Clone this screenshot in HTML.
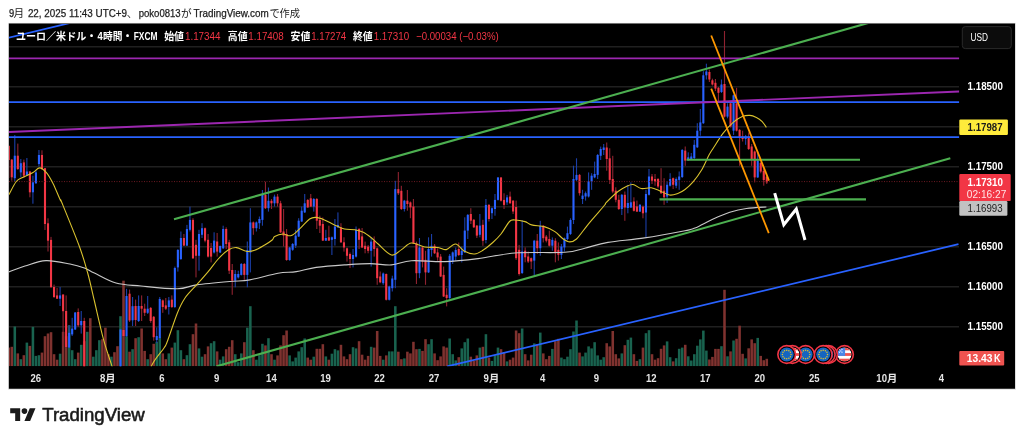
<!DOCTYPE html>
<html><head><meta charset="utf-8"><title>EURUSD chart</title>
<style>html,body{margin:0;padding:0;background:#fff;}body{width:1024px;height:441px;overflow:hidden;}svg{display:block;will-change:transform;font-family:"Liberation Sans","Noto Sans CJK JP",sans-serif;}</style>
</head><body>
<svg width="1024" height="441" viewBox="0 0 1024 441">
<defs><clipPath id="pane"><rect x="9" y="24" width="950.3" height="342.3"/></clipPath><clipPath id="fl"><circle cx="0" cy="0" r="7"/></clipPath></defs>
<rect x="0" y="0" width="1024" height="441" fill="#ffffff"/>
<rect x="8.2" y="22.9" width="1007.8" height="366.8" fill="#dedede"/>
<rect x="8.85" y="23.5" width="1006.15" height="365.25" fill="#000000"/>
<text x="9.1" y="17" font-size="10.7" fill="#1c1c1c" font-weight="normal" text-anchor="start" textLength="5.2" lengthAdjust="spacingAndGlyphs" stroke="#1c1c1c" stroke-width="0.25">9</text>
<text x="13.4" y="17" font-size="10.7" fill="#1c1c1c" font-weight="normal" text-anchor="start" font-family="&quot;Liberation Sans&quot;,&quot;Noto Sans CJK JP&quot;,sans-serif">月</text>
<text x="27.9" y="17" font-size="10.7" fill="#1c1c1c" font-weight="normal" text-anchor="start" textLength="99.1" lengthAdjust="spacingAndGlyphs" stroke="#1c1c1c" stroke-width="0.25">22, 2025 11:43 UTC+9</text>
<text x="126.8" y="17" font-size="10.7" fill="#1c1c1c" font-weight="normal" text-anchor="start" font-family="&quot;Liberation Sans&quot;,&quot;Noto Sans CJK JP&quot;,sans-serif">、</text>
<text x="138.7" y="17" font-size="10.7" fill="#1c1c1c" font-weight="normal" text-anchor="start" textLength="42" lengthAdjust="spacingAndGlyphs" stroke="#1c1c1c" stroke-width="0.25">poko0813</text>
<text x="181" y="17" font-size="10.7" fill="#1c1c1c" font-weight="normal" text-anchor="start" font-family="&quot;Liberation Sans&quot;,&quot;Noto Sans CJK JP&quot;,sans-serif">が</text>
<text x="193.5" y="17" font-size="10.7" fill="#1c1c1c" font-weight="normal" text-anchor="start" textLength="75.3" lengthAdjust="spacingAndGlyphs" stroke="#1c1c1c" stroke-width="0.25">TradingView.com</text>
<text x="269.4" y="17" font-size="10.7" fill="#1c1c1c" font-weight="normal" text-anchor="start" textLength="30.6" lengthAdjust="spacingAndGlyphs" font-family="&quot;Liberation Sans&quot;,&quot;Noto Sans CJK JP&quot;,sans-serif">で作成</text>
<line x1="9" y1="46.8" x2="959" y2="46.8" stroke="#202020" stroke-width="1.4"/>
<line x1="9" y1="86.8" x2="959" y2="86.8" stroke="#202020" stroke-width="1.4"/>
<line x1="9" y1="126.8" x2="959" y2="126.8" stroke="#202020" stroke-width="1.4"/>
<line x1="9" y1="166.8" x2="959" y2="166.8" stroke="#202020" stroke-width="1.4"/>
<line x1="9" y1="206.8" x2="959" y2="206.8" stroke="#202020" stroke-width="1.4"/>
<line x1="9" y1="246.8" x2="959" y2="246.8" stroke="#202020" stroke-width="1.4"/>
<line x1="9" y1="286.8" x2="959" y2="286.8" stroke="#202020" stroke-width="1.4"/>
<line x1="9" y1="326.8" x2="959" y2="326.8" stroke="#202020" stroke-width="1.4"/>
<g clip-path="url(#pane)">
<rect x="7.48" y="347.6" width="2.55" height="18.6" fill="#7f322f"/><rect x="10.50" y="346.8" width="2.55" height="19.4" fill="#7f322f"/><rect x="13.52" y="326.5" width="2.55" height="39.7" fill="#19634f"/><rect x="16.54" y="353.4" width="2.55" height="12.8" fill="#7f322f"/><rect x="19.56" y="359.2" width="2.55" height="7.0" fill="#19634f"/><rect x="22.58" y="355.2" width="2.55" height="11.0" fill="#7f322f"/><rect x="25.60" y="342.6" width="2.55" height="23.6" fill="#19634f"/><rect x="28.62" y="345.9" width="2.55" height="20.3" fill="#7f322f"/><rect x="31.64" y="326.8" width="2.55" height="39.4" fill="#19634f"/><rect x="34.66" y="355.9" width="2.55" height="10.3" fill="#19634f"/><rect x="37.68" y="355.2" width="2.55" height="11.0" fill="#19634f"/><rect x="40.70" y="352.6" width="2.55" height="13.6" fill="#7f322f"/><rect x="43.72" y="336.2" width="2.55" height="30.0" fill="#7f322f"/><rect x="46.74" y="333.5" width="2.55" height="32.7" fill="#7f322f"/><rect x="49.76" y="332.2" width="2.55" height="34.0" fill="#7f322f"/><rect x="52.78" y="354.2" width="2.55" height="12.0" fill="#7f322f"/><rect x="55.80" y="359.7" width="2.55" height="6.5" fill="#7f322f"/><rect x="58.82" y="353.7" width="2.55" height="12.5" fill="#19634f"/><rect x="61.84" y="331.8" width="2.55" height="34.4" fill="#7f322f"/><rect x="64.86" y="336.2" width="2.55" height="30.0" fill="#7f322f"/><rect x="67.88" y="325.2" width="2.55" height="41.0" fill="#19634f"/><rect x="70.90" y="350.2" width="2.55" height="16.0" fill="#19634f"/><rect x="73.92" y="359.2" width="2.55" height="7.0" fill="#19634f"/><rect x="76.94" y="352.6" width="2.55" height="13.6" fill="#7f322f"/><rect x="79.96" y="344.8" width="2.55" height="21.4" fill="#19634f"/><rect x="82.98" y="341.2" width="2.55" height="25.0" fill="#7f322f"/><rect x="86.00" y="331.8" width="2.55" height="34.4" fill="#19634f"/><rect x="89.02" y="318.2" width="2.55" height="48.0" fill="#7f322f"/><rect x="92.04" y="356.7" width="2.55" height="9.5" fill="#19634f"/><rect x="95.06" y="350.2" width="2.55" height="16.0" fill="#19634f"/><rect x="98.08" y="340.2" width="2.55" height="26.0" fill="#19634f"/><rect x="101.10" y="339.2" width="2.55" height="27.0" fill="#7f322f"/><rect x="104.12" y="327.7" width="2.55" height="38.5" fill="#7f322f"/><rect x="107.14" y="354.2" width="2.55" height="12.0" fill="#7f322f"/><rect x="110.16" y="356.7" width="2.55" height="9.5" fill="#19634f"/><rect x="113.18" y="352.2" width="2.55" height="14.0" fill="#7f322f"/><rect x="116.20" y="346.2" width="2.55" height="20.0" fill="#7f322f"/><rect x="119.22" y="316.2" width="2.55" height="50.0" fill="#19634f"/><rect x="122.24" y="280.7" width="2.55" height="85.5" fill="#7f322f"/><rect x="125.26" y="336.2" width="2.55" height="30.0" fill="#19634f"/><rect x="128.28" y="351.7" width="2.55" height="14.5" fill="#7f322f"/><rect x="131.30" y="349.2" width="2.55" height="17.0" fill="#19634f"/><rect x="134.32" y="338.2" width="2.55" height="28.0" fill="#7f322f"/><rect x="137.34" y="337.2" width="2.55" height="29.0" fill="#19634f"/><rect x="140.36" y="328.5" width="2.55" height="37.7" fill="#7f322f"/><rect x="143.38" y="350.9" width="2.55" height="15.3" fill="#7f322f"/><rect x="146.40" y="359.2" width="2.55" height="7.0" fill="#19634f"/><rect x="149.42" y="354.2" width="2.55" height="12.0" fill="#7f322f"/><rect x="152.44" y="343.8" width="2.55" height="22.4" fill="#7f322f"/><rect x="155.46" y="341.8" width="2.55" height="24.4" fill="#19634f"/><rect x="158.48" y="337.6" width="2.55" height="28.6" fill="#19634f"/><rect x="161.50" y="353.4" width="2.55" height="12.8" fill="#7f322f"/><rect x="164.52" y="359.2" width="2.55" height="7.0" fill="#7f322f"/><rect x="167.54" y="353.4" width="2.55" height="12.8" fill="#19634f"/><rect x="170.56" y="347.6" width="2.55" height="18.6" fill="#7f322f"/><rect x="173.58" y="342.6" width="2.55" height="23.6" fill="#19634f"/><rect x="176.60" y="330.2" width="2.55" height="36.0" fill="#19634f"/><rect x="179.62" y="350.2" width="2.55" height="16.0" fill="#19634f"/><rect x="182.64" y="359.2" width="2.55" height="7.0" fill="#7f322f"/><rect x="185.66" y="355.2" width="2.55" height="11.0" fill="#19634f"/><rect x="188.68" y="344.2" width="2.55" height="22.0" fill="#19634f"/><rect x="191.70" y="334.2" width="2.55" height="32.0" fill="#7f322f"/><rect x="194.72" y="323.5" width="2.55" height="42.7" fill="#7f322f"/><rect x="197.74" y="348.4" width="2.55" height="17.8" fill="#19634f"/><rect x="200.76" y="356.7" width="2.55" height="9.5" fill="#19634f"/><rect x="203.78" y="354.2" width="2.55" height="12.0" fill="#7f322f"/><rect x="206.80" y="346.4" width="2.55" height="19.8" fill="#7f322f"/><rect x="209.82" y="343.2" width="2.55" height="23.0" fill="#19634f"/><rect x="212.84" y="341.2" width="2.55" height="25.0" fill="#19634f"/><rect x="215.86" y="351.4" width="2.55" height="14.8" fill="#7f322f"/><rect x="218.88" y="359.7" width="2.55" height="6.5" fill="#19634f"/><rect x="221.90" y="356.4" width="2.55" height="9.8" fill="#19634f"/><rect x="224.92" y="349.2" width="2.55" height="17.0" fill="#7f322f"/><rect x="227.94" y="346.8" width="2.55" height="19.4" fill="#7f322f"/><rect x="230.96" y="340.2" width="2.55" height="26.0" fill="#7f322f"/><rect x="233.98" y="354.2" width="2.55" height="12.0" fill="#19634f"/><rect x="237.00" y="362.2" width="2.55" height="4.0" fill="#19634f"/><rect x="240.02" y="353.4" width="2.55" height="12.8" fill="#19634f"/><rect x="243.04" y="342.2" width="2.55" height="24.0" fill="#7f322f"/><rect x="246.06" y="327.7" width="2.55" height="38.5" fill="#19634f"/><rect x="249.08" y="306.2" width="2.55" height="60.0" fill="#19634f"/><rect x="252.10" y="350.2" width="2.55" height="16.0" fill="#7f322f"/><rect x="255.12" y="359.7" width="2.55" height="6.5" fill="#19634f"/><rect x="258.14" y="355.2" width="2.55" height="11.0" fill="#19634f"/><rect x="261.16" y="343.8" width="2.55" height="22.4" fill="#19634f"/><rect x="264.18" y="345.4" width="2.55" height="20.8" fill="#7f322f"/><rect x="267.20" y="338.2" width="2.55" height="28.0" fill="#19634f"/><rect x="270.22" y="354.2" width="2.55" height="12.0" fill="#7f322f"/><rect x="273.24" y="359.7" width="2.55" height="6.5" fill="#19634f"/><rect x="276.26" y="355.4" width="2.55" height="10.8" fill="#7f322f"/><rect x="279.28" y="345.4" width="2.55" height="20.8" fill="#7f322f"/><rect x="282.30" y="335.2" width="2.55" height="31.0" fill="#7f322f"/><rect x="285.32" y="330.5" width="2.55" height="35.7" fill="#7f322f"/><rect x="288.34" y="355.4" width="2.55" height="10.8" fill="#19634f"/><rect x="291.36" y="361.4" width="2.55" height="4.8" fill="#19634f"/><rect x="294.38" y="357.6" width="2.55" height="8.6" fill="#19634f"/><rect x="297.40" y="351.4" width="2.55" height="14.8" fill="#19634f"/><rect x="300.42" y="347.2" width="2.55" height="19.0" fill="#19634f"/><rect x="303.44" y="338.5" width="2.55" height="27.7" fill="#19634f"/><rect x="306.46" y="357.6" width="2.55" height="8.6" fill="#7f322f"/><rect x="309.48" y="359.7" width="2.55" height="6.5" fill="#7f322f"/><rect x="312.50" y="356.7" width="2.55" height="9.5" fill="#19634f"/><rect x="315.52" y="348.8" width="2.55" height="17.4" fill="#7f322f"/><rect x="318.54" y="348.8" width="2.55" height="17.4" fill="#7f322f"/><rect x="321.56" y="344.2" width="2.55" height="22.0" fill="#7f322f"/><rect x="324.58" y="356.4" width="2.55" height="9.8" fill="#19634f"/><rect x="327.60" y="359.7" width="2.55" height="6.5" fill="#7f322f"/><rect x="330.62" y="353.7" width="2.55" height="12.5" fill="#19634f"/><rect x="333.64" y="349.2" width="2.55" height="17.0" fill="#19634f"/><rect x="336.66" y="350.4" width="2.55" height="15.8" fill="#19634f"/><rect x="339.68" y="344.8" width="2.55" height="21.4" fill="#7f322f"/><rect x="342.70" y="356.4" width="2.55" height="9.8" fill="#7f322f"/><rect x="345.72" y="359.2" width="2.55" height="7.0" fill="#7f322f"/><rect x="348.74" y="354.2" width="2.55" height="12.0" fill="#7f322f"/><rect x="351.76" y="347.2" width="2.55" height="19.0" fill="#19634f"/><rect x="354.78" y="348.4" width="2.55" height="17.8" fill="#19634f"/><rect x="357.80" y="341.2" width="2.55" height="25.0" fill="#7f322f"/><rect x="360.82" y="354.7" width="2.55" height="11.5" fill="#7f322f"/><rect x="363.84" y="359.7" width="2.55" height="6.5" fill="#7f322f"/><rect x="366.86" y="355.9" width="2.55" height="10.3" fill="#7f322f"/><rect x="369.88" y="346.8" width="2.55" height="19.4" fill="#19634f"/><rect x="372.90" y="347.6" width="2.55" height="18.6" fill="#7f322f"/><rect x="375.92" y="331.0" width="2.55" height="35.2" fill="#7f322f"/><rect x="378.94" y="355.9" width="2.55" height="10.3" fill="#7f322f"/><rect x="381.96" y="359.7" width="2.55" height="6.5" fill="#19634f"/><rect x="384.98" y="355.4" width="2.55" height="10.8" fill="#7f322f"/><rect x="388.00" y="351.4" width="2.55" height="14.8" fill="#19634f"/><rect x="391.02" y="351.4" width="2.55" height="14.8" fill="#19634f"/><rect x="394.04" y="306.2" width="2.55" height="60.0" fill="#19634f"/><rect x="397.06" y="351.7" width="2.55" height="14.5" fill="#7f322f"/><rect x="400.08" y="359.2" width="2.55" height="7.0" fill="#7f322f"/><rect x="403.10" y="358.4" width="2.55" height="7.8" fill="#19634f"/><rect x="406.12" y="351.7" width="2.55" height="14.5" fill="#7f322f"/><rect x="409.14" y="353.4" width="2.55" height="12.8" fill="#7f322f"/><rect x="412.16" y="341.8" width="2.55" height="24.4" fill="#7f322f"/><rect x="415.18" y="349.2" width="2.55" height="17.0" fill="#7f322f"/><rect x="418.20" y="348.9" width="2.55" height="17.3" fill="#19634f"/><rect x="421.22" y="350.9" width="2.55" height="15.3" fill="#7f322f"/><rect x="424.24" y="339.2" width="2.55" height="27.0" fill="#7f322f"/><rect x="427.26" y="344.2" width="2.55" height="22.0" fill="#19634f"/><rect x="430.28" y="339.2" width="2.55" height="27.0" fill="#19634f"/><rect x="433.30" y="353.4" width="2.55" height="12.8" fill="#7f322f"/><rect x="436.32" y="360.2" width="2.55" height="6.0" fill="#7f322f"/><rect x="439.34" y="356.4" width="2.55" height="9.8" fill="#7f322f"/><rect x="442.36" y="346.4" width="2.55" height="19.8" fill="#7f322f"/><rect x="445.38" y="347.6" width="2.55" height="18.6" fill="#7f322f"/><rect x="448.40" y="338.5" width="2.55" height="27.7" fill="#19634f"/><rect x="451.42" y="354.2" width="2.55" height="12.0" fill="#19634f"/><rect x="454.44" y="360.4" width="2.55" height="5.8" fill="#19634f"/><rect x="457.46" y="357.2" width="2.55" height="9.0" fill="#7f322f"/><rect x="460.48" y="348.4" width="2.55" height="17.8" fill="#19634f"/><rect x="463.50" y="342.2" width="2.55" height="24.0" fill="#19634f"/><rect x="466.52" y="338.5" width="2.55" height="27.7" fill="#19634f"/><rect x="469.54" y="356.7" width="2.55" height="9.5" fill="#7f322f"/><rect x="472.56" y="360.9" width="2.55" height="5.3" fill="#7f322f"/><rect x="475.58" y="355.4" width="2.55" height="10.8" fill="#7f322f"/><rect x="478.60" y="347.6" width="2.55" height="18.6" fill="#19634f"/><rect x="481.62" y="346.8" width="2.55" height="19.4" fill="#7f322f"/><rect x="484.64" y="334.2" width="2.55" height="32.0" fill="#19634f"/><rect x="487.66" y="357.6" width="2.55" height="8.6" fill="#7f322f"/><rect x="490.68" y="360.9" width="2.55" height="5.3" fill="#19634f"/><rect x="493.70" y="355.2" width="2.55" height="11.0" fill="#19634f"/><rect x="496.72" y="347.6" width="2.55" height="18.6" fill="#19634f"/><rect x="499.74" y="349.2" width="2.55" height="17.0" fill="#7f322f"/><rect x="502.76" y="352.2" width="2.55" height="14.0" fill="#7f322f"/><rect x="505.78" y="361.4" width="2.55" height="4.8" fill="#19634f"/><rect x="508.80" y="359.7" width="2.55" height="6.5" fill="#7f322f"/><rect x="511.82" y="357.6" width="2.55" height="8.6" fill="#7f322f"/><rect x="514.84" y="330.5" width="2.55" height="35.7" fill="#7f322f"/><rect x="517.86" y="333.2" width="2.55" height="33.0" fill="#7f322f"/><rect x="520.88" y="328.5" width="2.55" height="37.7" fill="#19634f"/><rect x="523.90" y="354.2" width="2.55" height="12.0" fill="#7f322f"/><rect x="526.92" y="360.4" width="2.55" height="5.8" fill="#7f322f"/><rect x="529.94" y="354.7" width="2.55" height="11.5" fill="#7f322f"/><rect x="532.96" y="343.4" width="2.55" height="22.8" fill="#19634f"/><rect x="535.98" y="344.2" width="2.55" height="22.0" fill="#7f322f"/><rect x="539.00" y="332.6" width="2.55" height="33.6" fill="#19634f"/><rect x="542.02" y="353.4" width="2.55" height="12.8" fill="#7f322f"/><rect x="545.04" y="359.2" width="2.55" height="7.0" fill="#7f322f"/><rect x="548.06" y="355.9" width="2.55" height="10.3" fill="#7f322f"/><rect x="551.08" y="348.9" width="2.55" height="17.3" fill="#19634f"/><rect x="554.10" y="341.2" width="2.55" height="25.0" fill="#7f322f"/><rect x="557.12" y="338.8" width="2.55" height="27.4" fill="#7f322f"/><rect x="560.14" y="357.6" width="2.55" height="8.6" fill="#19634f"/><rect x="563.16" y="359.2" width="2.55" height="7.0" fill="#19634f"/><rect x="566.18" y="356.7" width="2.55" height="9.5" fill="#19634f"/><rect x="569.20" y="349.2" width="2.55" height="17.0" fill="#19634f"/><rect x="572.22" y="331.5" width="2.55" height="34.7" fill="#19634f"/><rect x="575.24" y="320.5" width="2.55" height="45.7" fill="#19634f"/><rect x="578.26" y="352.6" width="2.55" height="13.6" fill="#7f322f"/><rect x="581.28" y="356.4" width="2.55" height="9.8" fill="#19634f"/><rect x="584.30" y="352.6" width="2.55" height="13.6" fill="#19634f"/><rect x="587.32" y="346.4" width="2.55" height="19.8" fill="#19634f"/><rect x="590.34" y="348.4" width="2.55" height="17.8" fill="#19634f"/><rect x="593.36" y="342.2" width="2.55" height="24.0" fill="#19634f"/><rect x="596.38" y="355.4" width="2.55" height="10.8" fill="#19634f"/><rect x="599.40" y="359.7" width="2.55" height="6.5" fill="#19634f"/><rect x="602.42" y="357.2" width="2.55" height="9.0" fill="#19634f"/><rect x="605.44" y="343.2" width="2.55" height="23.0" fill="#7f322f"/><rect x="608.46" y="346.4" width="2.55" height="19.8" fill="#7f322f"/><rect x="611.48" y="331.0" width="2.55" height="35.2" fill="#7f322f"/><rect x="614.50" y="354.2" width="2.55" height="12.0" fill="#7f322f"/><rect x="617.52" y="358.4" width="2.55" height="7.8" fill="#7f322f"/><rect x="620.54" y="353.4" width="2.55" height="12.8" fill="#19634f"/><rect x="623.56" y="345.2" width="2.55" height="21.0" fill="#7f322f"/><rect x="626.58" y="339.8" width="2.55" height="26.4" fill="#19634f"/><rect x="629.60" y="337.6" width="2.55" height="28.6" fill="#19634f"/><rect x="632.62" y="354.2" width="2.55" height="12.0" fill="#7f322f"/><rect x="635.64" y="360.9" width="2.55" height="5.3" fill="#7f322f"/><rect x="638.66" y="359.2" width="2.55" height="7.0" fill="#19634f"/><rect x="641.68" y="347.6" width="2.55" height="18.6" fill="#7f322f"/><rect x="644.70" y="333.2" width="2.55" height="33.0" fill="#19634f"/><rect x="647.72" y="330.2" width="2.55" height="36.0" fill="#19634f"/><rect x="650.74" y="354.2" width="2.55" height="12.0" fill="#7f322f"/><rect x="653.76" y="359.7" width="2.55" height="6.5" fill="#7f322f"/><rect x="656.78" y="358.2" width="2.55" height="8.0" fill="#7f322f"/><rect x="659.80" y="348.8" width="2.55" height="17.4" fill="#7f322f"/><rect x="662.82" y="345.4" width="2.55" height="20.8" fill="#7f322f"/><rect x="665.84" y="341.4" width="2.55" height="24.8" fill="#19634f"/><rect x="668.86" y="357.2" width="2.55" height="9.0" fill="#19634f"/><rect x="671.88" y="361.4" width="2.55" height="4.8" fill="#7f322f"/><rect x="674.90" y="358.2" width="2.55" height="8.0" fill="#19634f"/><rect x="677.92" y="348.8" width="2.55" height="17.4" fill="#19634f"/><rect x="680.94" y="347.6" width="2.55" height="18.6" fill="#19634f"/><rect x="683.96" y="344.8" width="2.55" height="21.4" fill="#7f322f"/><rect x="686.98" y="356.3" width="2.55" height="9.9" fill="#19634f"/><rect x="690.00" y="360.5" width="2.55" height="5.7" fill="#19634f"/><rect x="693.02" y="354.2" width="2.55" height="12.0" fill="#19634f"/><rect x="696.04" y="345.7" width="2.55" height="20.5" fill="#19634f"/><rect x="699.06" y="339.4" width="2.55" height="26.8" fill="#19634f"/><rect x="702.08" y="330.6" width="2.55" height="35.6" fill="#19634f"/><rect x="705.10" y="350.6" width="2.55" height="15.6" fill="#19634f"/><rect x="708.12" y="359.5" width="2.55" height="6.7" fill="#7f322f"/><rect x="711.14" y="356.9" width="2.55" height="9.3" fill="#7f322f"/><rect x="714.16" y="348.9" width="2.55" height="17.3" fill="#7f322f"/><rect x="717.18" y="348.9" width="2.55" height="17.3" fill="#7f322f"/><rect x="720.20" y="346.2" width="2.55" height="20.0" fill="#19634f"/><rect x="723.22" y="289.8" width="2.55" height="76.4" fill="#7f322f"/><rect x="726.24" y="356.3" width="2.55" height="9.9" fill="#19634f"/><rect x="729.26" y="351.4" width="2.55" height="14.8" fill="#7f322f"/><rect x="732.28" y="340.5" width="2.55" height="25.7" fill="#19634f"/><rect x="735.30" y="338.8" width="2.55" height="27.4" fill="#7f322f"/><rect x="738.32" y="325.7" width="2.55" height="40.5" fill="#7f322f"/><rect x="741.34" y="353.8" width="2.55" height="12.4" fill="#7f322f"/><rect x="744.36" y="358.4" width="2.55" height="7.8" fill="#19634f"/><rect x="747.38" y="348.3" width="2.55" height="17.9" fill="#7f322f"/><rect x="750.40" y="339.4" width="2.55" height="26.8" fill="#7f322f"/><rect x="753.42" y="343.2" width="2.55" height="23.0" fill="#7f322f"/><rect x="756.44" y="337.9" width="2.55" height="28.3" fill="#19634f"/><rect x="759.46" y="355.9" width="2.55" height="10.3" fill="#7f322f"/><rect x="762.48" y="360.2" width="2.55" height="6.0" fill="#7f322f"/><rect x="765.50" y="358.8" width="2.55" height="7.4" fill="#7f322f"/>
<rect x="8.20" y="145.0" width="1.1" height="33.0" fill="#8f2230"/><rect x="11.22" y="159.0" width="1.1" height="21.7" fill="#8f2230"/><rect x="14.24" y="135.0" width="1.1" height="46.5" fill="#1b3fa8"/><rect x="17.26" y="143.6" width="1.1" height="26.4" fill="#8f2230"/><rect x="20.28" y="159.0" width="1.1" height="18.3" fill="#1b3fa8"/><rect x="23.30" y="159.6" width="1.1" height="18.4" fill="#8f2230"/><rect x="26.32" y="158.0" width="1.1" height="18.0" fill="#1b3fa8"/><rect x="29.34" y="171.0" width="1.1" height="26.3" fill="#8f2230"/><rect x="32.36" y="175.7" width="1.1" height="28.0" fill="#1b3fa8"/><rect x="35.38" y="170.0" width="1.1" height="14.0" fill="#1b3fa8"/><rect x="38.40" y="150.0" width="1.1" height="16.5" fill="#1b3fa8"/><rect x="41.42" y="150.3" width="1.1" height="19.7" fill="#8f2230"/><rect x="44.44" y="168.0" width="1.1" height="62.0" fill="#8f2230"/><rect x="47.46" y="218.3" width="1.1" height="33.2" fill="#8f2230"/><rect x="50.48" y="236.9" width="1.1" height="51.1" fill="#8f2230"/><rect x="53.50" y="284.6" width="1.1" height="13.4" fill="#8f2230"/><rect x="56.52" y="288.0" width="1.1" height="11.0" fill="#8f2230"/><rect x="59.54" y="287.0" width="1.1" height="19.0" fill="#1b3fa8"/><rect x="62.56" y="294.0" width="1.1" height="52.0" fill="#8f2230"/><rect x="65.58" y="295.4" width="1.1" height="52.6" fill="#8f2230"/><rect x="68.60" y="325.3" width="1.1" height="22.7" fill="#1b3fa8"/><rect x="71.62" y="317.8" width="1.1" height="18.2" fill="#1b3fa8"/><rect x="74.64" y="312.0" width="1.1" height="18.0" fill="#1b3fa8"/><rect x="77.66" y="308.4" width="1.1" height="18.6" fill="#8f2230"/><rect x="80.68" y="311.0" width="1.1" height="22.6" fill="#1b3fa8"/><rect x="83.70" y="317.8" width="1.1" height="52.2" fill="#8f2230"/><rect x="119.94" y="329.0" width="1.1" height="41.0" fill="#1b3fa8"/><rect x="122.96" y="329.0" width="1.1" height="8.0" fill="#8f2230"/><rect x="125.98" y="288.8" width="1.1" height="48.2" fill="#1b3fa8"/><rect x="129.00" y="289.6" width="1.1" height="32.4" fill="#8f2230"/><rect x="132.02" y="297.0" width="1.1" height="29.0" fill="#1b3fa8"/><rect x="135.04" y="299.6" width="1.1" height="26.4" fill="#8f2230"/><rect x="138.06" y="295.4" width="1.1" height="26.6" fill="#1b3fa8"/><rect x="141.08" y="295.4" width="1.1" height="25.6" fill="#8f2230"/><rect x="144.10" y="303.7" width="1.1" height="12.3" fill="#8f2230"/><rect x="147.12" y="296.0" width="1.1" height="18.0" fill="#1b3fa8"/><rect x="150.14" y="307.0" width="1.1" height="15.8" fill="#8f2230"/><rect x="153.16" y="316.0" width="1.1" height="24.7" fill="#8f2230"/><rect x="156.18" y="327.4" width="1.1" height="15.6" fill="#1b3fa8"/><rect x="159.20" y="297.0" width="1.1" height="42.0" fill="#1b3fa8"/><rect x="162.22" y="299.5" width="1.1" height="13.3" fill="#8f2230"/><rect x="165.24" y="298.0" width="1.1" height="12.0" fill="#8f2230"/><rect x="168.26" y="297.0" width="1.1" height="17.5" fill="#1b3fa8"/><rect x="171.28" y="295.4" width="1.1" height="12.6" fill="#8f2230"/><rect x="174.30" y="266.6" width="1.1" height="41.4" fill="#1b3fa8"/><rect x="177.32" y="249.0" width="1.1" height="22.6" fill="#1b3fa8"/><rect x="180.34" y="231.5" width="1.1" height="28.5" fill="#1b3fa8"/><rect x="183.36" y="234.0" width="1.1" height="12.0" fill="#8f2230"/><rect x="186.38" y="224.9" width="1.1" height="21.1" fill="#1b3fa8"/><rect x="189.40" y="206.6" width="1.1" height="24.9" fill="#1b3fa8"/><rect x="192.42" y="218.2" width="1.1" height="40.8" fill="#8f2230"/><rect x="195.44" y="239.8" width="1.1" height="37.6" fill="#8f2230"/><rect x="198.46" y="229.8" width="1.1" height="40.9" fill="#1b3fa8"/><rect x="201.48" y="223.2" width="1.1" height="14.8" fill="#1b3fa8"/><rect x="204.50" y="227.5" width="1.1" height="14.8" fill="#8f2230"/><rect x="207.52" y="234.0" width="1.1" height="23.5" fill="#8f2230"/><rect x="210.54" y="243.0" width="1.1" height="19.4" fill="#8f2230"/><rect x="213.56" y="232.3" width="1.1" height="21.2" fill="#1b3fa8"/><rect x="216.58" y="233.0" width="1.1" height="23.6" fill="#8f2230"/><rect x="219.60" y="245.5" width="1.1" height="7.5" fill="#1b3fa8"/><rect x="222.62" y="225.7" width="1.1" height="23.3" fill="#1b3fa8"/><rect x="225.64" y="227.3" width="1.1" height="21.7" fill="#8f2230"/><rect x="228.66" y="239.8" width="1.1" height="34.2" fill="#8f2230"/><rect x="231.68" y="264.0" width="1.1" height="30.8" fill="#8f2230"/><rect x="234.70" y="270.0" width="1.1" height="17.3" fill="#1b3fa8"/><rect x="237.72" y="270.7" width="1.1" height="7.8" fill="#1b3fa8"/><rect x="240.74" y="263.0" width="1.1" height="12.5" fill="#1b3fa8"/><rect x="243.76" y="263.0" width="1.1" height="16.9" fill="#8f2230"/><rect x="246.78" y="241.5" width="1.1" height="45.8" fill="#1b3fa8"/><rect x="249.80" y="208.2" width="1.1" height="64.2" fill="#1b3fa8"/><rect x="252.82" y="221.5" width="1.1" height="13.3" fill="#8f2230"/><rect x="255.84" y="221.5" width="1.1" height="10.0" fill="#1b3fa8"/><rect x="258.86" y="216.5" width="1.1" height="12.5" fill="#1b3fa8"/><rect x="261.88" y="190.0" width="1.1" height="35.7" fill="#1b3fa8"/><rect x="264.90" y="181.7" width="1.1" height="27.3" fill="#8f2230"/><rect x="267.92" y="187.5" width="1.1" height="24.1" fill="#1b3fa8"/><rect x="270.94" y="199.0" width="1.1" height="10.0" fill="#8f2230"/><rect x="273.96" y="194.6" width="1.1" height="12.0" fill="#1b3fa8"/><rect x="276.98" y="194.0" width="1.1" height="12.6" fill="#8f2230"/><rect x="280.00" y="200.8" width="1.1" height="32.2" fill="#8f2230"/><rect x="283.02" y="209.0" width="1.1" height="37.5" fill="#8f2230"/><rect x="286.04" y="229.0" width="1.1" height="31.8" fill="#8f2230"/><rect x="289.06" y="247.0" width="1.1" height="13.8" fill="#1b3fa8"/><rect x="292.08" y="243.0" width="1.1" height="7.8" fill="#1b3fa8"/><rect x="295.10" y="229.8" width="1.1" height="18.2" fill="#1b3fa8"/><rect x="298.12" y="218.2" width="1.1" height="18.8" fill="#1b3fa8"/><rect x="301.14" y="206.6" width="1.1" height="15.4" fill="#1b3fa8"/><rect x="304.16" y="194.0" width="1.1" height="19.0" fill="#1b3fa8"/><rect x="307.18" y="199.0" width="1.1" height="9.0" fill="#8f2230"/><rect x="310.20" y="194.0" width="1.1" height="13.0" fill="#8f2230"/><rect x="313.22" y="198.0" width="1.1" height="13.6" fill="#1b3fa8"/><rect x="316.24" y="198.0" width="1.1" height="31.0" fill="#8f2230"/><rect x="319.26" y="215.7" width="1.1" height="17.3" fill="#8f2230"/><rect x="322.28" y="217.4" width="1.1" height="23.6" fill="#8f2230"/><rect x="325.30" y="229.8" width="1.1" height="11.2" fill="#1b3fa8"/><rect x="328.32" y="225.7" width="1.1" height="15.3" fill="#8f2230"/><rect x="331.34" y="236.5" width="1.1" height="18.5" fill="#1b3fa8"/><rect x="334.36" y="219.0" width="1.1" height="26.6" fill="#1b3fa8"/><rect x="337.38" y="212.4" width="1.1" height="15.6" fill="#1b3fa8"/><rect x="340.40" y="223.2" width="1.1" height="19.8" fill="#8f2230"/><rect x="343.42" y="237.3" width="1.1" height="14.3" fill="#8f2230"/><rect x="346.44" y="247.5" width="1.1" height="14.1" fill="#8f2230"/><rect x="349.46" y="252.5" width="1.1" height="15.5" fill="#8f2230"/><rect x="352.48" y="249.0" width="1.1" height="18.4" fill="#1b3fa8"/><rect x="355.50" y="226.5" width="1.1" height="31.0" fill="#1b3fa8"/><rect x="358.52" y="228.0" width="1.1" height="21.0" fill="#8f2230"/><rect x="361.54" y="228.0" width="1.1" height="20.0" fill="#8f2230"/><rect x="364.56" y="241.6" width="1.1" height="11.7" fill="#8f2230"/><rect x="367.58" y="245.0" width="1.1" height="8.3" fill="#8f2230"/><rect x="370.60" y="237.3" width="1.1" height="29.3" fill="#1b3fa8"/><rect x="373.62" y="236.4" width="1.1" height="20.2" fill="#8f2230"/><rect x="376.64" y="247.5" width="1.1" height="37.3" fill="#8f2230"/><rect x="379.66" y="271.5" width="1.1" height="11.7" fill="#8f2230"/><rect x="382.68" y="272.5" width="1.1" height="12.3" fill="#1b3fa8"/><rect x="385.70" y="273.5" width="1.1" height="27.0" fill="#8f2230"/><rect x="388.72" y="285.7" width="1.1" height="14.8" fill="#1b3fa8"/><rect x="391.74" y="275.7" width="1.1" height="15.8" fill="#1b3fa8"/><rect x="394.76" y="180.8" width="1.1" height="107.4" fill="#1b3fa8"/><rect x="397.78" y="172.0" width="1.1" height="23.0" fill="#8f2230"/><rect x="400.80" y="185.8" width="1.1" height="24.2" fill="#8f2230"/><rect x="403.82" y="199.9" width="1.1" height="11.6" fill="#1b3fa8"/><rect x="406.84" y="190.0" width="1.1" height="20.7" fill="#8f2230"/><rect x="409.86" y="201.5" width="1.1" height="16.7" fill="#8f2230"/><rect x="412.88" y="199.0" width="1.1" height="45.0" fill="#8f2230"/><rect x="415.90" y="241.6" width="1.1" height="42.4" fill="#8f2230"/><rect x="418.92" y="238.0" width="1.1" height="40.2" fill="#1b3fa8"/><rect x="421.94" y="246.5" width="1.1" height="20.9" fill="#8f2230"/><rect x="424.96" y="250.8" width="1.1" height="34.0" fill="#8f2230"/><rect x="427.98" y="237.3" width="1.1" height="35.7" fill="#1b3fa8"/><rect x="431.00" y="234.0" width="1.1" height="22.6" fill="#1b3fa8"/><rect x="434.02" y="244.0" width="1.1" height="10.0" fill="#8f2230"/><rect x="437.04" y="248.3" width="1.1" height="12.4" fill="#8f2230"/><rect x="440.06" y="254.0" width="1.1" height="23.0" fill="#8f2230"/><rect x="443.08" y="266.6" width="1.1" height="30.4" fill="#8f2230"/><rect x="446.10" y="288.2" width="1.1" height="18.2" fill="#8f2230"/><rect x="449.12" y="254.0" width="1.1" height="45.0" fill="#1b3fa8"/><rect x="452.14" y="251.5" width="1.1" height="12.5" fill="#1b3fa8"/><rect x="455.16" y="247.5" width="1.1" height="13.2" fill="#1b3fa8"/><rect x="458.18" y="242.5" width="1.1" height="13.5" fill="#8f2230"/><rect x="461.20" y="246.6" width="1.1" height="15.8" fill="#1b3fa8"/><rect x="464.22" y="217.3" width="1.1" height="35.7" fill="#1b3fa8"/><rect x="467.24" y="214.0" width="1.1" height="25.0" fill="#1b3fa8"/><rect x="470.26" y="208.2" width="1.1" height="15.8" fill="#8f2230"/><rect x="473.28" y="219.0" width="1.1" height="9.0" fill="#8f2230"/><rect x="476.30" y="225.0" width="1.1" height="13.0" fill="#8f2230"/><rect x="479.32" y="214.0" width="1.1" height="23.3" fill="#1b3fa8"/><rect x="482.34" y="219.8" width="1.1" height="26.0" fill="#8f2230"/><rect x="485.36" y="199.0" width="1.1" height="44.3" fill="#1b3fa8"/><rect x="488.38" y="204.0" width="1.1" height="17.5" fill="#8f2230"/><rect x="491.40" y="207.4" width="1.1" height="11.6" fill="#1b3fa8"/><rect x="494.42" y="194.0" width="1.1" height="21.7" fill="#1b3fa8"/><rect x="497.44" y="177.0" width="1.1" height="23.5" fill="#1b3fa8"/><rect x="500.46" y="177.0" width="1.1" height="24.5" fill="#8f2230"/><rect x="503.48" y="193.3" width="1.1" height="15.7" fill="#8f2230"/><rect x="506.50" y="194.9" width="1.1" height="10.0" fill="#1b3fa8"/><rect x="509.52" y="191.6" width="1.1" height="12.4" fill="#8f2230"/><rect x="512.54" y="200.0" width="1.1" height="14.0" fill="#8f2230"/><rect x="515.56" y="200.6" width="1.1" height="59.4" fill="#8f2230"/><rect x="518.58" y="244.9" width="1.1" height="30.7" fill="#8f2230"/><rect x="521.60" y="220.0" width="1.1" height="54.0" fill="#1b3fa8"/><rect x="524.62" y="247.4" width="1.1" height="14.9" fill="#8f2230"/><rect x="527.64" y="251.5" width="1.1" height="11.5" fill="#8f2230"/><rect x="530.66" y="257.5" width="1.1" height="11.5" fill="#8f2230"/><rect x="533.68" y="239.9" width="1.1" height="35.7" fill="#1b3fa8"/><rect x="536.70" y="234.0" width="1.1" height="20.0" fill="#8f2230"/><rect x="539.72" y="220.8" width="1.1" height="34.9" fill="#1b3fa8"/><rect x="542.74" y="225.0" width="1.1" height="17.4" fill="#8f2230"/><rect x="545.76" y="235.0" width="1.1" height="7.4" fill="#8f2230"/><rect x="548.78" y="230.7" width="1.1" height="15.8" fill="#8f2230"/><rect x="551.80" y="237.4" width="1.1" height="13.3" fill="#1b3fa8"/><rect x="554.82" y="238.2" width="1.1" height="24.1" fill="#8f2230"/><rect x="557.84" y="242.4" width="1.1" height="18.2" fill="#8f2230"/><rect x="560.86" y="244.0" width="1.1" height="15.0" fill="#1b3fa8"/><rect x="563.88" y="237.5" width="1.1" height="14.0" fill="#1b3fa8"/><rect x="566.90" y="226.6" width="1.1" height="13.4" fill="#1b3fa8"/><rect x="569.92" y="218.3" width="1.1" height="16.7" fill="#1b3fa8"/><rect x="572.94" y="165.7" width="1.1" height="58.3" fill="#1b3fa8"/><rect x="575.96" y="158.3" width="1.1" height="22.7" fill="#1b3fa8"/><rect x="578.98" y="174.0" width="1.1" height="21.6" fill="#8f2230"/><rect x="582.00" y="189.8" width="1.1" height="14.2" fill="#1b3fa8"/><rect x="585.02" y="191.5" width="1.1" height="9.1" fill="#1b3fa8"/><rect x="588.04" y="172.4" width="1.1" height="25.1" fill="#1b3fa8"/><rect x="591.06" y="173.2" width="1.1" height="16.6" fill="#1b3fa8"/><rect x="594.08" y="161.6" width="1.1" height="16.6" fill="#1b3fa8"/><rect x="597.10" y="154.0" width="1.1" height="25.0" fill="#1b3fa8"/><rect x="600.12" y="146.6" width="1.1" height="13.4" fill="#1b3fa8"/><rect x="603.14" y="144.0" width="1.1" height="11.0" fill="#1b3fa8"/><rect x="606.16" y="142.5" width="1.1" height="28.2" fill="#8f2230"/><rect x="609.18" y="148.3" width="1.1" height="35.7" fill="#8f2230"/><rect x="612.20" y="155.8" width="1.1" height="37.4" fill="#8f2230"/><rect x="615.22" y="187.3" width="1.1" height="15.0" fill="#8f2230"/><rect x="618.24" y="194.8" width="1.1" height="15.2" fill="#8f2230"/><rect x="621.26" y="194.0" width="1.1" height="21.0" fill="#1b3fa8"/><rect x="624.28" y="191.5" width="1.1" height="29.3" fill="#8f2230"/><rect x="627.30" y="184.9" width="1.1" height="28.4" fill="#1b3fa8"/><rect x="630.32" y="182.4" width="1.1" height="25.6" fill="#1b3fa8"/><rect x="633.34" y="197.3" width="1.1" height="14.2" fill="#8f2230"/><rect x="636.36" y="200.6" width="1.1" height="11.4" fill="#8f2230"/><rect x="639.38" y="204.0" width="1.1" height="8.0" fill="#1b3fa8"/><rect x="642.40" y="205.5" width="1.1" height="12.8" fill="#8f2230"/><rect x="645.42" y="189.8" width="1.1" height="47.6" fill="#1b3fa8"/><rect x="648.44" y="169.0" width="1.1" height="26.5" fill="#1b3fa8"/><rect x="651.46" y="174.0" width="1.1" height="10.0" fill="#8f2230"/><rect x="654.48" y="174.0" width="1.1" height="11.7" fill="#8f2230"/><rect x="657.50" y="178.0" width="1.1" height="10.2" fill="#8f2230"/><rect x="660.52" y="168.2" width="1.1" height="25.8" fill="#8f2230"/><rect x="663.54" y="178.2" width="1.1" height="26.6" fill="#8f2230"/><rect x="666.56" y="181.5" width="1.1" height="21.5" fill="#1b3fa8"/><rect x="669.58" y="173.2" width="1.1" height="13.3" fill="#1b3fa8"/><rect x="672.60" y="177.5" width="1.1" height="11.5" fill="#8f2230"/><rect x="675.62" y="177.4" width="1.1" height="10.8" fill="#1b3fa8"/><rect x="678.64" y="171.5" width="1.1" height="18.3" fill="#1b3fa8"/><rect x="681.66" y="149.0" width="1.1" height="29.0" fill="#1b3fa8"/><rect x="684.68" y="146.5" width="1.1" height="19.3" fill="#8f2230"/><rect x="687.70" y="152.3" width="1.1" height="8.7" fill="#1b3fa8"/><rect x="690.72" y="153.0" width="1.1" height="7.0" fill="#1b3fa8"/><rect x="693.74" y="139.9" width="1.1" height="19.1" fill="#1b3fa8"/><rect x="696.76" y="123.2" width="1.1" height="24.8" fill="#1b3fa8"/><rect x="699.78" y="109.0" width="1.1" height="26.7" fill="#1b3fa8"/><rect x="702.80" y="71.2" width="1.1" height="52.8" fill="#1b3fa8"/><rect x="705.82" y="63.7" width="1.1" height="15.8" fill="#1b3fa8"/><rect x="708.84" y="69.5" width="1.1" height="12.5" fill="#8f2230"/><rect x="711.86" y="78.7" width="1.1" height="6.8" fill="#8f2230"/><rect x="714.88" y="79.0" width="1.1" height="12.0" fill="#8f2230"/><rect x="717.90" y="87.0" width="1.1" height="14.0" fill="#8f2230"/><rect x="720.92" y="79.5" width="1.1" height="13.5" fill="#1b3fa8"/><rect x="723.94" y="31.0" width="1.1" height="86.5" fill="#8f2230"/><rect x="726.96" y="103.3" width="1.1" height="15.0" fill="#1b3fa8"/><rect x="729.98" y="102.5" width="1.1" height="25.0" fill="#8f2230"/><rect x="733.00" y="94.5" width="1.1" height="40.4" fill="#1b3fa8"/><rect x="736.02" y="87.8" width="1.1" height="43.7" fill="#8f2230"/><rect x="739.04" y="129.0" width="1.1" height="36.8" fill="#8f2230"/><rect x="742.06" y="130.7" width="1.1" height="10.8" fill="#8f2230"/><rect x="745.08" y="134.9" width="1.1" height="9.9" fill="#1b3fa8"/><rect x="748.10" y="132.4" width="1.1" height="17.6" fill="#8f2230"/><rect x="751.12" y="144.0" width="1.1" height="21.8" fill="#8f2230"/><rect x="754.14" y="150.5" width="1.1" height="31.9" fill="#8f2230"/><rect x="757.16" y="151.5" width="1.1" height="26.5" fill="#1b3fa8"/><rect x="760.18" y="162.0" width="1.1" height="11.3" fill="#8f2230"/><rect x="763.20" y="169.0" width="1.1" height="16.7" fill="#8f2230"/><rect x="766.22" y="175.8" width="1.1" height="8.2" fill="#8f2230"/>
<rect x="7.70" y="146.0" width="2.1" height="14.0" fill="#f23645"/><rect x="10.72" y="159.6" width="2.1" height="17.7" fill="#f23645"/><rect x="13.74" y="155.7" width="2.1" height="22.5" fill="#2962ff"/><rect x="16.76" y="155.7" width="2.1" height="13.3" fill="#f23645"/><rect x="19.78" y="163.2" width="2.1" height="9.2" fill="#2962ff"/><rect x="22.80" y="162.4" width="2.1" height="13.3" fill="#f23645"/><rect x="25.82" y="171.5" width="2.1" height="3.7" fill="#2962ff"/><rect x="28.84" y="171.5" width="2.1" height="20.8" fill="#f23645"/><rect x="31.86" y="182.3" width="2.1" height="10.0" fill="#2962ff"/><rect x="34.88" y="172.4" width="2.1" height="10.8" fill="#2962ff"/><rect x="37.90" y="155.0" width="2.1" height="9.0" fill="#2962ff"/><rect x="40.92" y="155.0" width="2.1" height="14.0" fill="#f23645"/><rect x="43.94" y="168.2" width="2.1" height="55.8" fill="#f23645"/><rect x="46.96" y="223.3" width="2.1" height="17.4" fill="#f23645"/><rect x="49.98" y="239.9" width="2.1" height="47.2" fill="#f23645"/><rect x="53.00" y="287.0" width="2.1" height="10.0" fill="#f23645"/><rect x="56.02" y="295.4" width="2.1" height="3.3" fill="#f23645"/><rect x="59.04" y="295.4" width="2.1" height="3.3" fill="#2962ff"/><rect x="62.06" y="294.6" width="2.1" height="16.6" fill="#f23645"/><rect x="65.08" y="311.0" width="2.1" height="36.0" fill="#f23645"/><rect x="68.10" y="332.8" width="2.1" height="14.7" fill="#2962ff"/><rect x="71.12" y="328.6" width="2.1" height="5.8" fill="#2962ff"/><rect x="74.14" y="312.5" width="2.1" height="17.0" fill="#2962ff"/><rect x="77.16" y="312.0" width="2.1" height="13.3" fill="#f23645"/><rect x="80.18" y="321.0" width="2.1" height="4.3" fill="#2962ff"/><rect x="83.20" y="321.0" width="2.1" height="49.0" fill="#f23645"/><rect x="119.44" y="329.5" width="2.1" height="40.5" fill="#2962ff"/><rect x="122.46" y="330.0" width="2.1" height="6.0" fill="#f23645"/><rect x="125.48" y="296.0" width="2.1" height="40.0" fill="#2962ff"/><rect x="128.50" y="293.7" width="2.1" height="26.8" fill="#f23645"/><rect x="131.52" y="306.2" width="2.1" height="14.1" fill="#2962ff"/><rect x="134.54" y="306.0" width="2.1" height="14.0" fill="#f23645"/><rect x="137.56" y="306.0" width="2.1" height="15.0" fill="#2962ff"/><rect x="140.58" y="306.0" width="2.1" height="2.7" fill="#f23645"/><rect x="143.60" y="308.7" width="2.1" height="4.1" fill="#f23645"/><rect x="146.62" y="308.7" width="2.1" height="4.1" fill="#2962ff"/><rect x="149.64" y="307.9" width="2.1" height="13.1" fill="#f23645"/><rect x="152.66" y="316.8" width="2.1" height="20.4" fill="#f23645"/><rect x="155.68" y="336.0" width="2.1" height="4.0" fill="#2962ff"/><rect x="158.70" y="299.0" width="2.1" height="39.0" fill="#2962ff"/><rect x="161.72" y="300.4" width="2.1" height="6.6" fill="#f23645"/><rect x="164.74" y="305.4" width="2.1" height="3.3" fill="#f23645"/><rect x="167.76" y="300.4" width="2.1" height="6.6" fill="#2962ff"/><rect x="170.78" y="299.6" width="2.1" height="7.4" fill="#f23645"/><rect x="173.80" y="268.0" width="2.1" height="39.0" fill="#2962ff"/><rect x="176.82" y="250.0" width="2.1" height="17.4" fill="#2962ff"/><rect x="179.84" y="238.0" width="2.1" height="21.0" fill="#2962ff"/><rect x="182.86" y="238.0" width="2.1" height="7.6" fill="#f23645"/><rect x="185.88" y="229.0" width="2.1" height="16.6" fill="#2962ff"/><rect x="188.90" y="219.9" width="2.1" height="9.9" fill="#2962ff"/><rect x="191.92" y="219.9" width="2.1" height="38.4" fill="#f23645"/><rect x="194.94" y="244.8" width="2.1" height="11.0" fill="#f23645"/><rect x="197.96" y="234.0" width="2.1" height="21.8" fill="#2962ff"/><rect x="200.98" y="228.2" width="2.1" height="6.6" fill="#2962ff"/><rect x="204.00" y="228.2" width="2.1" height="12.4" fill="#f23645"/><rect x="207.02" y="239.8" width="2.1" height="16.8" fill="#f23645"/><rect x="210.04" y="248.0" width="2.1" height="8.6" fill="#f23645"/><rect x="213.06" y="240.6" width="2.1" height="11.9" fill="#2962ff"/><rect x="216.08" y="241.5" width="2.1" height="10.1" fill="#f23645"/><rect x="219.10" y="246.0" width="2.1" height="6.5" fill="#2962ff"/><rect x="222.12" y="229.0" width="2.1" height="19.3" fill="#2962ff"/><rect x="225.14" y="229.0" width="2.1" height="15.0" fill="#f23645"/><rect x="228.16" y="242.3" width="2.1" height="28.4" fill="#f23645"/><rect x="231.18" y="270.0" width="2.1" height="10.7" fill="#f23645"/><rect x="234.20" y="274.0" width="2.1" height="6.7" fill="#2962ff"/><rect x="237.22" y="274.0" width="2.1" height="3.4" fill="#2962ff"/><rect x="240.24" y="264.0" width="2.1" height="10.9" fill="#2962ff"/><rect x="243.26" y="264.0" width="2.1" height="10.9" fill="#f23645"/><rect x="246.28" y="250.0" width="2.1" height="24.9" fill="#2962ff"/><rect x="249.30" y="222.4" width="2.1" height="30.1" fill="#2962ff"/><rect x="252.32" y="222.4" width="2.1" height="5.8" fill="#f23645"/><rect x="255.34" y="222.4" width="2.1" height="5.8" fill="#2962ff"/><rect x="258.36" y="219.0" width="2.1" height="4.2" fill="#2962ff"/><rect x="261.38" y="195.0" width="2.1" height="24.9" fill="#2962ff"/><rect x="264.40" y="195.0" width="2.1" height="13.2" fill="#f23645"/><rect x="267.42" y="200.8" width="2.1" height="7.4" fill="#2962ff"/><rect x="270.44" y="200.8" width="2.1" height="2.5" fill="#f23645"/><rect x="273.46" y="196.6" width="2.1" height="6.7" fill="#2962ff"/><rect x="276.48" y="196.6" width="2.1" height="6.7" fill="#f23645"/><rect x="279.50" y="203.3" width="2.1" height="29.0" fill="#f23645"/><rect x="282.52" y="231.5" width="2.1" height="4.1" fill="#f23645"/><rect x="285.54" y="234.0" width="2.1" height="26.0" fill="#f23645"/><rect x="288.56" y="247.5" width="2.1" height="12.5" fill="#2962ff"/><rect x="291.58" y="244.0" width="2.1" height="5.8" fill="#2962ff"/><rect x="294.60" y="235.6" width="2.1" height="10.0" fill="#2962ff"/><rect x="297.62" y="220.7" width="2.1" height="15.8" fill="#2962ff"/><rect x="300.64" y="210.7" width="2.1" height="10.8" fill="#2962ff"/><rect x="303.66" y="203.3" width="2.1" height="9.1" fill="#2962ff"/><rect x="306.68" y="200.0" width="2.1" height="7.4" fill="#f23645"/><rect x="309.70" y="198.3" width="2.1" height="8.3" fill="#f23645"/><rect x="312.72" y="199.0" width="2.1" height="7.6" fill="#2962ff"/><rect x="315.74" y="199.0" width="2.1" height="21.7" fill="#f23645"/><rect x="318.76" y="219.9" width="2.1" height="5.8" fill="#f23645"/><rect x="321.78" y="224.0" width="2.1" height="16.6" fill="#f23645"/><rect x="324.80" y="238.0" width="2.1" height="2.6" fill="#2962ff"/><rect x="327.82" y="237.3" width="2.1" height="3.3" fill="#f23645"/><rect x="330.84" y="237.3" width="2.1" height="2.5" fill="#2962ff"/><rect x="333.86" y="226.5" width="2.1" height="12.5" fill="#2962ff"/><rect x="336.88" y="224.9" width="2.1" height="2.4" fill="#2962ff"/><rect x="339.90" y="227.3" width="2.1" height="15.0" fill="#f23645"/><rect x="342.92" y="242.3" width="2.1" height="5.2" fill="#f23645"/><rect x="345.94" y="248.3" width="2.1" height="7.5" fill="#f23645"/><rect x="348.96" y="254.0" width="2.1" height="5.0" fill="#f23645"/><rect x="351.98" y="255.0" width="2.1" height="4.0" fill="#2962ff"/><rect x="355.00" y="229.8" width="2.1" height="26.8" fill="#2962ff"/><rect x="358.02" y="229.0" width="2.1" height="10.8" fill="#f23645"/><rect x="361.04" y="236.4" width="2.1" height="11.1" fill="#f23645"/><rect x="364.06" y="245.8" width="2.1" height="3.2" fill="#f23645"/><rect x="367.08" y="246.6" width="2.1" height="4.2" fill="#f23645"/><rect x="370.10" y="241.6" width="2.1" height="9.2" fill="#2962ff"/><rect x="373.12" y="240.8" width="2.1" height="8.2" fill="#f23645"/><rect x="376.14" y="248.3" width="2.1" height="29.9" fill="#f23645"/><rect x="379.16" y="276.5" width="2.1" height="5.8" fill="#f23645"/><rect x="382.18" y="273.5" width="2.1" height="9.7" fill="#2962ff"/><rect x="385.20" y="274.0" width="2.1" height="25.8" fill="#f23645"/><rect x="388.22" y="286.5" width="2.1" height="13.3" fill="#2962ff"/><rect x="391.24" y="278.5" width="2.1" height="9.7" fill="#2962ff"/><rect x="394.26" y="189.1" width="2.1" height="90.7" fill="#2962ff"/><rect x="397.28" y="189.1" width="2.1" height="4.2" fill="#f23645"/><rect x="400.30" y="190.8" width="2.1" height="18.2" fill="#f23645"/><rect x="403.32" y="200.7" width="2.1" height="8.3" fill="#2962ff"/><rect x="406.34" y="200.7" width="2.1" height="3.3" fill="#f23645"/><rect x="409.36" y="202.4" width="2.1" height="5.0" fill="#f23645"/><rect x="412.38" y="206.5" width="2.1" height="36.8" fill="#f23645"/><rect x="415.40" y="243.3" width="2.1" height="29.9" fill="#f23645"/><rect x="418.42" y="247.5" width="2.1" height="25.7" fill="#2962ff"/><rect x="421.44" y="247.5" width="2.1" height="14.1" fill="#f23645"/><rect x="424.46" y="259.9" width="2.1" height="12.5" fill="#f23645"/><rect x="427.48" y="249.0" width="2.1" height="23.4" fill="#2962ff"/><rect x="430.50" y="245.8" width="2.1" height="4.2" fill="#2962ff"/><rect x="433.52" y="245.8" width="2.1" height="7.5" fill="#f23645"/><rect x="436.54" y="252.4" width="2.1" height="5.0" fill="#f23645"/><rect x="439.56" y="256.6" width="2.1" height="19.9" fill="#f23645"/><rect x="442.58" y="274.9" width="2.1" height="21.6" fill="#f23645"/><rect x="445.60" y="294.8" width="2.1" height="3.2" fill="#f23645"/><rect x="448.62" y="255.8" width="2.1" height="42.2" fill="#2962ff"/><rect x="451.64" y="252.4" width="2.1" height="9.2" fill="#2962ff"/><rect x="454.66" y="250.0" width="2.1" height="6.6" fill="#2962ff"/><rect x="457.68" y="249.0" width="2.1" height="6.0" fill="#f23645"/><rect x="460.70" y="250.8" width="2.1" height="4.2" fill="#2962ff"/><rect x="463.72" y="230.6" width="2.1" height="21.8" fill="#2962ff"/><rect x="466.74" y="214.9" width="2.1" height="15.7" fill="#2962ff"/><rect x="469.76" y="214.0" width="2.1" height="6.7" fill="#f23645"/><rect x="472.78" y="219.8" width="2.1" height="7.5" fill="#f23645"/><rect x="475.80" y="225.6" width="2.1" height="10.0" fill="#f23645"/><rect x="478.82" y="225.6" width="2.1" height="9.2" fill="#2962ff"/><rect x="481.84" y="224.8" width="2.1" height="16.0" fill="#f23645"/><rect x="484.86" y="204.9" width="2.1" height="35.1" fill="#2962ff"/><rect x="487.88" y="204.9" width="2.1" height="14.1" fill="#f23645"/><rect x="490.90" y="208.2" width="2.1" height="5.0" fill="#2962ff"/><rect x="493.92" y="199.9" width="2.1" height="9.1" fill="#2962ff"/><rect x="496.94" y="177.5" width="2.1" height="22.4" fill="#2962ff"/><rect x="499.96" y="177.5" width="2.1" height="23.2" fill="#f23645"/><rect x="502.98" y="199.9" width="2.1" height="5.0" fill="#f23645"/><rect x="506.00" y="197.4" width="2.1" height="5.0" fill="#2962ff"/><rect x="509.02" y="196.6" width="2.1" height="6.6" fill="#f23645"/><rect x="512.04" y="200.7" width="2.1" height="10.8" fill="#f23645"/><rect x="515.06" y="207.0" width="2.1" height="51.2" fill="#f23645"/><rect x="518.08" y="249.8" width="2.1" height="24.2" fill="#f23645"/><rect x="521.10" y="251.5" width="2.1" height="21.5" fill="#2962ff"/><rect x="524.12" y="250.7" width="2.1" height="6.6" fill="#f23645"/><rect x="527.14" y="256.5" width="2.1" height="5.0" fill="#f23645"/><rect x="530.16" y="258.2" width="2.1" height="3.3" fill="#f23645"/><rect x="533.18" y="240.7" width="2.1" height="19.9" fill="#2962ff"/><rect x="536.20" y="240.7" width="2.1" height="7.5" fill="#f23645"/><rect x="539.22" y="225.8" width="2.1" height="22.4" fill="#2962ff"/><rect x="542.24" y="225.8" width="2.1" height="12.4" fill="#f23645"/><rect x="545.26" y="236.6" width="2.1" height="4.1" fill="#f23645"/><rect x="548.28" y="239.0" width="2.1" height="6.7" fill="#f23645"/><rect x="551.30" y="239.9" width="2.1" height="5.8" fill="#2962ff"/><rect x="554.32" y="240.7" width="2.1" height="12.5" fill="#f23645"/><rect x="557.34" y="249.8" width="2.1" height="5.0" fill="#f23645"/><rect x="560.36" y="246.5" width="2.1" height="8.3" fill="#2962ff"/><rect x="563.38" y="238.2" width="2.1" height="9.2" fill="#2962ff"/><rect x="566.40" y="233.2" width="2.1" height="5.8" fill="#2962ff"/><rect x="569.42" y="220.0" width="2.1" height="14.0" fill="#2962ff"/><rect x="572.44" y="179.0" width="2.1" height="41.0" fill="#2962ff"/><rect x="575.46" y="174.9" width="2.1" height="5.0" fill="#2962ff"/><rect x="578.48" y="174.9" width="2.1" height="18.3" fill="#f23645"/><rect x="581.50" y="195.6" width="2.1" height="3.4" fill="#2962ff"/><rect x="584.52" y="193.2" width="2.1" height="3.3" fill="#2962ff"/><rect x="587.54" y="181.5" width="2.1" height="15.0" fill="#2962ff"/><rect x="590.56" y="175.7" width="2.1" height="5.8" fill="#2962ff"/><rect x="593.58" y="174.0" width="2.1" height="3.4" fill="#2962ff"/><rect x="596.60" y="155.0" width="2.1" height="19.9" fill="#2962ff"/><rect x="599.62" y="149.0" width="2.1" height="6.8" fill="#2962ff"/><rect x="602.64" y="147.5" width="2.1" height="2.5" fill="#2962ff"/><rect x="605.66" y="147.5" width="2.1" height="11.5" fill="#f23645"/><rect x="608.68" y="158.3" width="2.1" height="21.6" fill="#f23645"/><rect x="611.70" y="179.0" width="2.1" height="12.5" fill="#f23645"/><rect x="614.72" y="190.7" width="2.1" height="9.1" fill="#f23645"/><rect x="617.74" y="199.8" width="2.1" height="9.2" fill="#f23645"/><rect x="620.76" y="194.8" width="2.1" height="14.2" fill="#2962ff"/><rect x="623.78" y="194.8" width="2.1" height="12.7" fill="#f23645"/><rect x="626.80" y="203.0" width="2.1" height="5.0" fill="#2962ff"/><rect x="629.82" y="202.3" width="2.1" height="5.2" fill="#2962ff"/><rect x="632.84" y="201.5" width="2.1" height="9.3" fill="#f23645"/><rect x="635.86" y="206.4" width="2.1" height="5.2" fill="#f23645"/><rect x="638.88" y="204.8" width="2.1" height="6.8" fill="#2962ff"/><rect x="641.90" y="206.7" width="2.1" height="6.6" fill="#f23645"/><rect x="644.92" y="194.0" width="2.1" height="18.5" fill="#2962ff"/><rect x="647.94" y="176.5" width="2.1" height="18.3" fill="#2962ff"/><rect x="650.96" y="176.5" width="2.1" height="4.2" fill="#f23645"/><rect x="653.98" y="179.0" width="2.1" height="2.5" fill="#f23645"/><rect x="657.00" y="179.0" width="2.1" height="7.5" fill="#f23645"/><rect x="660.02" y="185.7" width="2.1" height="7.5" fill="#f23645"/><rect x="663.04" y="190.7" width="2.1" height="6.6" fill="#f23645"/><rect x="666.06" y="184.8" width="2.1" height="11.7" fill="#2962ff"/><rect x="669.08" y="179.0" width="2.1" height="6.7" fill="#2962ff"/><rect x="672.10" y="178.2" width="2.1" height="6.6" fill="#f23645"/><rect x="675.12" y="179.0" width="2.1" height="6.7" fill="#2962ff"/><rect x="678.14" y="176.5" width="2.1" height="3.4" fill="#2962ff"/><rect x="681.16" y="150.0" width="2.1" height="27.0" fill="#2962ff"/><rect x="684.18" y="150.6" width="2.1" height="10.0" fill="#f23645"/><rect x="687.20" y="157.3" width="2.1" height="2.5" fill="#2962ff"/><rect x="690.22" y="156.5" width="2.1" height="2.5" fill="#2962ff"/><rect x="693.24" y="144.8" width="2.1" height="13.2" fill="#2962ff"/><rect x="696.26" y="130.7" width="2.1" height="16.6" fill="#2962ff"/><rect x="699.28" y="122.4" width="2.1" height="8.3" fill="#2962ff"/><rect x="702.30" y="75.3" width="2.1" height="47.9" fill="#2962ff"/><rect x="705.32" y="71.5" width="2.1" height="3.8" fill="#2962ff"/><rect x="708.34" y="72.0" width="2.1" height="7.5" fill="#f23645"/><rect x="711.36" y="80.3" width="2.1" height="4.2" fill="#f23645"/><rect x="714.38" y="82.8" width="2.1" height="5.8" fill="#f23645"/><rect x="717.40" y="87.8" width="2.1" height="5.0" fill="#f23645"/><rect x="720.42" y="84.5" width="2.1" height="7.5" fill="#2962ff"/><rect x="723.44" y="84.0" width="2.1" height="32.6" fill="#f23645"/><rect x="726.46" y="106.6" width="2.1" height="10.0" fill="#2962ff"/><rect x="729.48" y="103.3" width="2.1" height="23.3" fill="#f23645"/><rect x="732.50" y="95.3" width="2.1" height="35.4" fill="#2962ff"/><rect x="735.52" y="103.3" width="2.1" height="27.4" fill="#f23645"/><rect x="738.54" y="129.9" width="2.1" height="7.5" fill="#f23645"/><rect x="741.56" y="136.5" width="2.1" height="2.5" fill="#f23645"/><rect x="744.58" y="136.2" width="2.1" height="2.8" fill="#2962ff"/><rect x="747.60" y="136.5" width="2.1" height="12.5" fill="#f23645"/><rect x="750.62" y="146.5" width="2.1" height="12.5" fill="#f23645"/><rect x="753.64" y="151.5" width="2.1" height="25.9" fill="#f23645"/><rect x="756.66" y="160.6" width="2.1" height="16.8" fill="#2962ff"/><rect x="759.68" y="163.0" width="2.1" height="8.6" fill="#f23645"/><rect x="762.70" y="170.8" width="2.1" height="9.2" fill="#f23645"/><rect x="765.72" y="176.6" width="2.1" height="5.8" fill="#f23645"/>
<line x1="9" y1="181.6" x2="959" y2="181.6" stroke="#7a1d27" stroke-width="0.9" stroke-dasharray="1,1.5"/>
<path d="M8.0 272.3C10.8 271.2 18.7 267.9 25.0 266.0C31.3 264.1 38.5 260.9 46.0 260.6C53.5 260.3 63.6 262.8 70.0 264.0C76.4 265.2 80.3 266.5 84.4 268.0C88.5 269.5 89.1 270.5 94.4 273.0C99.7 275.5 108.2 280.8 116.0 283.0C123.8 285.2 130.8 285.0 141.0 286.0C151.2 287.0 168.1 289.0 177.4 288.8C186.7 288.6 187.9 286.1 196.6 284.9C205.3 283.7 220.9 282.3 229.8 281.5C238.7 280.7 241.8 281.3 249.8 279.9C257.8 278.5 270.2 274.6 278.0 273.2C285.8 271.8 289.9 272.6 296.3 271.6C302.7 270.6 308.2 268.5 316.2 267.4C324.2 266.3 335.4 265.5 344.4 264.9C353.4 264.3 362.1 263.6 370.0 263.6C377.9 263.6 384.6 265.4 391.5 264.9C398.4 264.4 402.5 261.2 411.4 260.7C420.3 260.1 433.6 262.0 444.7 261.6C455.8 261.2 466.3 260.0 478.0 258.6C489.7 257.2 500.2 254.1 514.7 253.0C529.2 251.9 553.1 253.1 564.8 252.3C576.5 251.5 577.6 249.8 584.8 248.2C592.0 246.5 598.0 244.1 608.0 242.4C618.0 240.7 631.8 239.9 644.6 237.9C657.4 235.9 676.6 232.3 685.0 230.7C693.4 229.0 690.3 229.9 695.0 228.0C699.7 226.1 707.4 221.6 713.2 219.0C719.0 216.4 724.3 214.1 729.8 212.3C735.3 210.6 740.3 209.4 746.4 208.5C752.5 207.6 763.1 207.2 766.4 207.0" fill="none" stroke="#c8c8c8" stroke-width="1.1" stroke-linejoin="round"/>
<path d="M8.8 194.8C10.1 192.6 13.9 184.4 16.3 181.5C18.7 178.6 20.2 178.8 23.0 177.3C25.8 175.8 30.2 174.0 33.0 172.4C35.8 170.8 37.4 167.9 39.6 167.9C41.8 167.9 44.0 169.9 46.2 172.4C48.4 174.9 50.5 178.6 52.9 183.2C55.2 187.8 58.8 196.7 60.3 200.0C61.8 203.3 58.8 195.2 62.0 203.0C65.2 210.8 75.1 234.8 79.4 246.5C83.7 258.2 85.2 263.9 87.7 273.0C90.2 282.1 91.8 289.9 94.4 301.0C97.0 312.1 100.6 328.6 103.5 339.4C106.4 350.2 109.0 356.8 111.8 365.6C114.5 374.4 116.6 384.6 120.0 392.0C123.4 399.4 128.0 410.0 132.0 410.0C136.0 410.0 140.7 399.4 144.0 392.0C147.3 384.6 148.4 372.9 151.7 365.6C155.0 358.3 161.4 352.1 164.0 348.0C166.6 343.9 165.3 346.8 167.5 341.0C169.7 335.2 174.5 320.2 177.4 313.0C180.3 305.8 181.8 302.7 185.0 298.0C188.2 293.3 192.7 289.3 196.6 284.9C200.5 280.5 204.6 275.9 208.2 271.6C211.8 267.3 214.9 262.6 218.2 259.0C221.5 255.4 225.1 251.9 228.2 250.0C231.2 248.1 233.5 247.4 236.5 247.6C239.5 247.8 243.4 250.9 246.4 251.3C249.4 251.8 251.6 251.4 254.7 250.3C257.8 249.2 261.8 246.7 264.7 245.0C267.6 243.3 270.5 241.4 272.2 240.0C273.9 238.6 272.9 237.5 274.7 236.5C276.5 235.5 280.2 234.2 283.0 234.0C285.8 233.8 288.3 236.7 291.3 235.6C294.3 234.5 298.1 230.1 301.2 227.3C304.2 224.5 307.1 220.7 309.6 219.0C312.1 217.3 313.7 217.2 316.2 217.4C318.7 217.6 321.4 218.7 324.5 219.9C327.6 221.2 331.2 223.4 334.5 224.9C337.8 226.4 341.0 228.2 344.4 229.0C347.8 229.8 351.9 229.2 355.0 229.8C358.1 230.4 360.5 230.9 363.3 232.3C366.1 233.7 369.1 236.1 371.6 238.0C374.1 239.9 374.9 241.2 378.2 244.0C381.5 246.8 387.6 254.1 391.5 255.0C395.4 255.9 398.2 251.6 401.5 249.6C404.8 247.6 407.5 243.4 411.4 243.0C415.3 242.6 420.3 246.2 424.7 247.0C429.1 247.8 434.4 247.1 438.0 247.5C441.6 247.9 443.4 250.2 446.3 249.6C449.2 249.0 452.4 243.7 455.5 244.0C458.6 244.3 461.4 249.6 464.6 251.3C467.8 253.0 471.6 254.2 474.6 254.0C477.7 253.8 479.9 252.2 482.9 250.3C485.9 248.4 489.8 245.2 492.8 242.5C495.8 239.8 498.2 237.5 501.0 234.0C503.8 230.5 507.2 223.8 509.5 221.5C511.8 219.2 512.4 220.0 515.0 220.0C517.6 220.0 522.2 220.8 525.0 221.6C527.8 222.4 528.3 224.0 531.6 224.9C534.9 225.8 541.0 225.8 544.9 226.9C548.8 228.0 551.8 229.6 554.9 231.6C558.0 233.6 560.7 237.3 563.2 239.0C565.7 240.7 567.6 241.9 569.8 241.9C572.0 241.9 573.7 241.6 576.5 239.0C579.3 236.4 583.4 230.3 586.4 226.6C589.4 222.9 591.7 220.2 594.7 216.6C597.8 213.0 602.8 207.4 604.7 205.0C606.7 202.6 604.2 204.6 606.4 202.3C608.6 200.1 614.7 194.1 618.0 191.5C621.3 188.9 623.8 187.7 626.3 186.5C628.8 185.3 630.5 184.2 633.0 184.5C635.5 184.8 638.2 187.9 641.2 188.5C644.2 189.1 648.2 187.4 651.2 187.8C654.2 188.2 656.5 189.5 659.5 190.7C662.5 191.9 666.5 194.5 669.5 195.0C672.5 195.5 675.2 194.4 677.8 193.5C680.4 192.6 682.4 191.5 685.0 189.5C687.6 187.5 690.5 184.8 693.3 181.6C696.1 178.3 699.0 174.4 701.6 170.0C704.2 165.6 707.1 158.6 709.0 155.0C710.9 151.4 710.8 151.8 713.2 148.2C715.6 144.6 719.9 137.5 723.2 133.2C726.5 128.9 730.0 125.2 733.2 122.4C736.4 119.6 739.5 117.8 742.3 116.6C745.1 115.4 747.4 115.3 749.8 115.4C752.1 115.5 754.3 116.4 756.4 117.4C758.5 118.4 760.5 119.9 762.2 121.6C763.9 123.3 765.7 126.4 766.4 127.4" fill="none" stroke="#d9c22e" stroke-width="1.1" stroke-linejoin="round"/>
<line x1="9" y1="58.3" x2="959.3" y2="58.3" stroke="#9c27b0" stroke-width="1.8" stroke-linecap="butt"/>
<line x1="9" y1="102.1" x2="959.3" y2="102.1" stroke="#2962ff" stroke-width="1.75" stroke-linecap="butt"/>
<line x1="9" y1="137.1" x2="959.3" y2="137.1" stroke="#2962ff" stroke-width="1.75" stroke-linecap="butt"/>
<line x1="9" y1="132.0" x2="959.3" y2="91.5" stroke="#9c27b0" stroke-width="1.9" stroke-linecap="butt"/>
<line x1="174" y1="219.3" x2="870" y2="22.5" stroke="#4caf50" stroke-width="2.1" stroke-linecap="butt"/>
<line x1="216.5" y1="366.3" x2="950.3" y2="158.2" stroke="#4caf50" stroke-width="2.1" stroke-linecap="butt"/>
<line x1="5" y1="38.6" x2="70" y2="23.0" stroke="#2962ff" stroke-width="1.75" stroke-linecap="butt"/>
<line x1="447" y1="366.4" x2="958.5" y2="244.2" stroke="#2962ff" stroke-width="1.75" stroke-linecap="butt"/>
<line x1="686.6" y1="159.8" x2="860" y2="159.8" stroke="#4caf50" stroke-width="2.1" stroke-linecap="butt"/>
<line x1="659.5" y1="199.4" x2="866" y2="199.4" stroke="#4caf50" stroke-width="2.1" stroke-linecap="butt"/>
<line x1="711.2" y1="35.5" x2="769" y2="180.6" stroke="#ff9800" stroke-width="1.8" stroke-linecap="butt"/>
<line x1="711.2" y1="88.6" x2="768.8" y2="233.2" stroke="#ff9800" stroke-width="1.8" stroke-linecap="butt"/>
<polyline points="774.7,193.2 783.8,224.8 796.3,209 805,240" fill="none" stroke="#ffffff" stroke-width="3" stroke-linejoin="miter" stroke-linecap="butt"/>
</g>
<text x="16" y="40.3" font-size="10.6" fill="#ffffff" font-weight="bold" text-anchor="start" textLength="70.2" lengthAdjust="spacingAndGlyphs" font-family="&quot;Liberation Sans&quot;,&quot;Noto Sans CJK JP&quot;,sans-serif">ユーロ／米ドル</text>
<text x="91.55" y="40.3" font-size="10.6" fill="#ffffff" font-weight="bold" text-anchor="middle" font-family="&quot;Liberation Sans&quot;,&quot;Noto Sans CJK JP&quot;,sans-serif">・</text>
<text x="97.6" y="40.3" font-size="10.6" fill="#ffffff" font-weight="bold" text-anchor="start" textLength="5.3" lengthAdjust="spacingAndGlyphs">4</text>
<text x="103" y="40.3" font-size="10.6" fill="#ffffff" font-weight="bold" text-anchor="start" textLength="19.5" lengthAdjust="spacingAndGlyphs" font-family="&quot;Liberation Sans&quot;,&quot;Noto Sans CJK JP&quot;,sans-serif">時間</text>
<text x="127.65" y="40.3" font-size="10.6" fill="#ffffff" font-weight="bold" text-anchor="middle" font-family="&quot;Liberation Sans&quot;,&quot;Noto Sans CJK JP&quot;,sans-serif">・</text>
<text x="133.7" y="40.3" font-size="10.6" fill="#ffffff" font-weight="bold" text-anchor="start" textLength="23.8" lengthAdjust="spacingAndGlyphs">FXCM</text>
<text x="164.2" y="40.3" font-size="10.6" fill="#ffffff" font-weight="bold" text-anchor="start" textLength="19.8" lengthAdjust="spacingAndGlyphs" font-family="&quot;Liberation Sans&quot;,&quot;Noto Sans CJK JP&quot;,sans-serif">始値</text>
<text x="184.9" y="40.3" font-size="10.6" fill="#f23645" font-weight="normal" text-anchor="start" textLength="35.7" lengthAdjust="spacingAndGlyphs">1.17344</text>
<text x="227.8" y="40.3" font-size="10.6" fill="#ffffff" font-weight="bold" text-anchor="start" textLength="19.8" lengthAdjust="spacingAndGlyphs" font-family="&quot;Liberation Sans&quot;,&quot;Noto Sans CJK JP&quot;,sans-serif">高値</text>
<text x="248.3" y="40.3" font-size="10.6" fill="#f23645" font-weight="normal" text-anchor="start" textLength="35.4" lengthAdjust="spacingAndGlyphs">1.17408</text>
<text x="290.5" y="40.3" font-size="10.6" fill="#ffffff" font-weight="bold" text-anchor="start" textLength="19.8" lengthAdjust="spacingAndGlyphs" font-family="&quot;Liberation Sans&quot;,&quot;Noto Sans CJK JP&quot;,sans-serif">安値</text>
<text x="311.2" y="40.3" font-size="10.6" fill="#f23645" font-weight="normal" text-anchor="start" textLength="35.0" lengthAdjust="spacingAndGlyphs">1.17274</text>
<text x="352.9" y="40.3" font-size="10.6" fill="#ffffff" font-weight="bold" text-anchor="start" textLength="19.8" lengthAdjust="spacingAndGlyphs" font-family="&quot;Liberation Sans&quot;,&quot;Noto Sans CJK JP&quot;,sans-serif">終値</text>
<text x="373.7" y="40.3" font-size="10.6" fill="#f23645" font-weight="normal" text-anchor="start" textLength="35.4" lengthAdjust="spacingAndGlyphs">1.17310</text>
<text x="416" y="40.3" font-size="10.6" fill="#f23645" font-weight="normal" text-anchor="start" textLength="82.7" lengthAdjust="spacingAndGlyphs">−0.00034 (−0.03%)</text>
<rect x="962.3" y="26.6" width="49" height="22" rx="3" ry="3" fill="#0c0c0c" stroke="#2e2e2e" stroke-width="0.9"/>
<text x="970.5" y="41.0" font-size="10.8" fill="#ffffff" font-weight="normal" text-anchor="start" textLength="17.5" lengthAdjust="spacingAndGlyphs">USD</text>
<text x="967.6" y="90.2" font-size="10.4" fill="#ffffff" font-weight="bold" text-anchor="start" textLength="35.3" lengthAdjust="spacingAndGlyphs">1.18500</text>
<text x="967.6" y="170.2" font-size="10.4" fill="#ffffff" font-weight="bold" text-anchor="start" textLength="35.3" lengthAdjust="spacingAndGlyphs">1.17500</text>
<text x="967.6" y="250.2" font-size="10.4" fill="#ffffff" font-weight="bold" text-anchor="start" textLength="35.3" lengthAdjust="spacingAndGlyphs">1.16500</text>
<text x="967.6" y="290.2" font-size="10.4" fill="#ffffff" font-weight="bold" text-anchor="start" textLength="35.3" lengthAdjust="spacingAndGlyphs">1.16000</text>
<text x="967.6" y="330.2" font-size="10.4" fill="#ffffff" font-weight="bold" text-anchor="start" textLength="35.3" lengthAdjust="spacingAndGlyphs">1.15500</text>
<rect x="959.3" y="119.6" width="48.6" height="15.4" rx="1.2" fill="#ffeb3b"/>
<text x="967.6" y="131.0" font-size="10.0" fill="#1a1a1a" font-weight="bold" text-anchor="start" textLength="35.0" lengthAdjust="spacingAndGlyphs">1.17987</text>
<rect x="959.3" y="173.9" width="51.4" height="27.2" rx="1.2" fill="#f23645"/>
<text x="967.6" y="185.9" font-size="10.0" fill="#ffffff" font-weight="bold" text-anchor="start" textLength="35.3" lengthAdjust="spacingAndGlyphs">1.17310</text>
<text x="966.8" y="197.6" font-size="10.0" fill="#ffe3e5" font-weight="normal" text-anchor="start" textLength="39.5" lengthAdjust="spacingAndGlyphs">02:16:27</text>
<rect x="959.3" y="201.1" width="48.1" height="14.6" rx="1.2" fill="#c2c2c2"/>
<text x="967.6" y="212.29999999999998" font-size="10.0" fill="#1a1a1a" font-weight="normal" text-anchor="start" textLength="35.0" lengthAdjust="spacingAndGlyphs">1.16993</text>
<rect x="959.3" y="351.0" width="44.9" height="14.6" rx="1" fill="#ef5350"/>
<text x="966.8" y="362.0" font-size="10.0" fill="#ffffff" font-weight="bold" text-anchor="start" textLength="25.6" lengthAdjust="spacingAndGlyphs">13.43</text>
<text x="994.0" y="362.0" font-size="10.0" fill="#ffffff" font-weight="bold" text-anchor="start" textLength="6.6" lengthAdjust="spacingAndGlyphs">K</text>
<text x="30.4" y="382.2" font-size="10.3" fill="#e6e6e6" font-weight="bold" text-anchor="start" textLength="10.6" lengthAdjust="spacingAndGlyphs">26</text>
<text x="159.15" y="382.2" font-size="10.3" fill="#e6e6e6" font-weight="bold" text-anchor="start" textLength="5.3" lengthAdjust="spacingAndGlyphs">6</text>
<text x="213.95" y="382.2" font-size="10.3" fill="#e6e6e6" font-weight="bold" text-anchor="start" textLength="5.3" lengthAdjust="spacingAndGlyphs">9</text>
<text x="266.1" y="382.2" font-size="10.3" fill="#e6e6e6" font-weight="bold" text-anchor="start" textLength="10.6" lengthAdjust="spacingAndGlyphs">14</text>
<text x="320.3" y="382.2" font-size="10.3" fill="#e6e6e6" font-weight="bold" text-anchor="start" textLength="10.6" lengthAdjust="spacingAndGlyphs">19</text>
<text x="374.2" y="382.2" font-size="10.3" fill="#e6e6e6" font-weight="bold" text-anchor="start" textLength="10.6" lengthAdjust="spacingAndGlyphs">22</text>
<text x="428.7" y="382.2" font-size="10.3" fill="#e6e6e6" font-weight="bold" text-anchor="start" textLength="10.6" lengthAdjust="spacingAndGlyphs">27</text>
<text x="540.05" y="382.2" font-size="10.3" fill="#e6e6e6" font-weight="bold" text-anchor="start" textLength="5.3" lengthAdjust="spacingAndGlyphs">4</text>
<text x="593.85" y="382.2" font-size="10.3" fill="#e6e6e6" font-weight="bold" text-anchor="start" textLength="5.3" lengthAdjust="spacingAndGlyphs">9</text>
<text x="646.0" y="382.2" font-size="10.3" fill="#e6e6e6" font-weight="bold" text-anchor="start" textLength="10.6" lengthAdjust="spacingAndGlyphs">12</text>
<text x="699.9" y="382.2" font-size="10.3" fill="#e6e6e6" font-weight="bold" text-anchor="start" textLength="10.6" lengthAdjust="spacingAndGlyphs">17</text>
<text x="754.4" y="382.2" font-size="10.3" fill="#e6e6e6" font-weight="bold" text-anchor="start" textLength="10.6" lengthAdjust="spacingAndGlyphs">20</text>
<text x="808.9" y="382.2" font-size="10.3" fill="#e6e6e6" font-weight="bold" text-anchor="start" textLength="10.6" lengthAdjust="spacingAndGlyphs">25</text>
<text x="938.85" y="382.2" font-size="10.3" fill="#e6e6e6" font-weight="bold" text-anchor="start" textLength="5.3" lengthAdjust="spacingAndGlyphs">4</text>
<text x="99.92" y="382.2" font-size="10.3" fill="#e6e6e6" font-weight="bold" text-anchor="start" textLength="5.35" lengthAdjust="spacingAndGlyphs">8</text>
<text x="105.2" y="382.2" font-size="10.3" fill="#e6e6e6" font-weight="bold" text-anchor="start" font-family="&quot;Liberation Sans&quot;,&quot;Noto Sans CJK JP&quot;,sans-serif">月</text>
<text x="483.62" y="382.2" font-size="10.3" fill="#e6e6e6" font-weight="bold" text-anchor="start" textLength="5.35" lengthAdjust="spacingAndGlyphs">9</text>
<text x="488.9" y="382.2" font-size="10.3" fill="#e6e6e6" font-weight="bold" text-anchor="start" font-family="&quot;Liberation Sans&quot;,&quot;Noto Sans CJK JP&quot;,sans-serif">月</text>
<text x="876.35" y="382.2" font-size="10.3" fill="#e6e6e6" font-weight="bold" text-anchor="start" textLength="10.7" lengthAdjust="spacingAndGlyphs">10</text>
<text x="887" y="382.2" font-size="10.3" fill="#e6e6e6" font-weight="bold" text-anchor="start" font-family="&quot;Liberation Sans&quot;,&quot;Noto Sans CJK JP&quot;,sans-serif">月</text>
<g transform="translate(844.5,354.5)"><circle r="8.85" fill="#000" stroke="#f23645" stroke-width="1.6"/><g clip-path="url(#fl)"><rect x="-7" y="-7" width="14" height="14" fill="#ffffff"/><rect x="-7" y="-7.00" width="14" height="2.8" fill="#ef5350"/><rect x="-7" y="-1.40" width="14" height="2.8" fill="#ef5350"/><rect x="-7" y="4.20" width="14" height="2.8" fill="#ef5350"/><rect x="-7" y="-7" width="7.6" height="8.4" fill="#4a86e8"/><circle cx="-5" cy="-5" r="0.6" fill="#fff"/><circle cx="-2.5" cy="-5" r="0.6" fill="#fff"/><circle cx="-5" cy="-2.3" r="0.6" fill="#fff"/><circle cx="-2.5" cy="-2.3" r="0.6" fill="#fff"/><circle cx="-3.7" cy="-3.6" r="0.6" fill="#fff"/></g></g>
<g transform="translate(828.6,354.5)"><circle r="8.85" fill="#000" stroke="#f23645" stroke-width="1.6"/><circle r="7" fill="#1565c0"/><circle cx="0.00" cy="-4.30" r="0.75" fill="#e6c229"/><circle cx="2.15" cy="-3.72" r="0.75" fill="#e6c229"/><circle cx="3.72" cy="-2.15" r="0.75" fill="#e6c229"/><circle cx="4.30" cy="-0.00" r="0.75" fill="#e6c229"/><circle cx="3.72" cy="2.15" r="0.75" fill="#e6c229"/><circle cx="2.15" cy="3.72" r="0.75" fill="#e6c229"/><circle cx="0.00" cy="4.30" r="0.75" fill="#e6c229"/><circle cx="-2.15" cy="3.72" r="0.75" fill="#e6c229"/><circle cx="-3.72" cy="2.15" r="0.75" fill="#e6c229"/><circle cx="-4.30" cy="0.00" r="0.75" fill="#e6c229"/><circle cx="-3.72" cy="-2.15" r="0.75" fill="#e6c229"/><circle cx="-2.15" cy="-3.72" r="0.75" fill="#e6c229"/></g>
<g transform="translate(826.2,354.5)"><circle r="8.85" fill="#000" stroke="#f23645" stroke-width="1.6"/><circle r="7" fill="#1565c0"/><circle cx="0.00" cy="-4.30" r="0.75" fill="#e6c229"/><circle cx="2.15" cy="-3.72" r="0.75" fill="#e6c229"/><circle cx="3.72" cy="-2.15" r="0.75" fill="#e6c229"/><circle cx="4.30" cy="-0.00" r="0.75" fill="#e6c229"/><circle cx="3.72" cy="2.15" r="0.75" fill="#e6c229"/><circle cx="2.15" cy="3.72" r="0.75" fill="#e6c229"/><circle cx="0.00" cy="4.30" r="0.75" fill="#e6c229"/><circle cx="-2.15" cy="3.72" r="0.75" fill="#e6c229"/><circle cx="-3.72" cy="2.15" r="0.75" fill="#e6c229"/><circle cx="-4.30" cy="0.00" r="0.75" fill="#e6c229"/><circle cx="-3.72" cy="-2.15" r="0.75" fill="#e6c229"/><circle cx="-2.15" cy="-3.72" r="0.75" fill="#e6c229"/></g>
<g transform="translate(823.2,354.5)"><circle r="8.85" fill="#000" stroke="#f23645" stroke-width="1.6"/><circle r="7" fill="#1565c0"/><circle cx="0.00" cy="-4.30" r="0.75" fill="#e6c229"/><circle cx="2.15" cy="-3.72" r="0.75" fill="#e6c229"/><circle cx="3.72" cy="-2.15" r="0.75" fill="#e6c229"/><circle cx="4.30" cy="-0.00" r="0.75" fill="#e6c229"/><circle cx="3.72" cy="2.15" r="0.75" fill="#e6c229"/><circle cx="2.15" cy="3.72" r="0.75" fill="#e6c229"/><circle cx="0.00" cy="4.30" r="0.75" fill="#e6c229"/><circle cx="-2.15" cy="3.72" r="0.75" fill="#e6c229"/><circle cx="-3.72" cy="2.15" r="0.75" fill="#e6c229"/><circle cx="-4.30" cy="0.00" r="0.75" fill="#e6c229"/><circle cx="-3.72" cy="-2.15" r="0.75" fill="#e6c229"/><circle cx="-2.15" cy="-3.72" r="0.75" fill="#e6c229"/></g>
<g transform="translate(805.6,354.5)"><circle r="8.85" fill="#000" stroke="#f23645" stroke-width="1.6"/><circle r="7" fill="#1565c0"/><circle cx="0.00" cy="-4.30" r="0.75" fill="#e6c229"/><circle cx="2.15" cy="-3.72" r="0.75" fill="#e6c229"/><circle cx="3.72" cy="-2.15" r="0.75" fill="#e6c229"/><circle cx="4.30" cy="-0.00" r="0.75" fill="#e6c229"/><circle cx="3.72" cy="2.15" r="0.75" fill="#e6c229"/><circle cx="2.15" cy="3.72" r="0.75" fill="#e6c229"/><circle cx="0.00" cy="4.30" r="0.75" fill="#e6c229"/><circle cx="-2.15" cy="3.72" r="0.75" fill="#e6c229"/><circle cx="-3.72" cy="2.15" r="0.75" fill="#e6c229"/><circle cx="-4.30" cy="0.00" r="0.75" fill="#e6c229"/><circle cx="-3.72" cy="-2.15" r="0.75" fill="#e6c229"/><circle cx="-2.15" cy="-3.72" r="0.75" fill="#e6c229"/></g>
<g transform="translate(792.4,354.5)"><circle r="8.85" fill="#000" stroke="#f23645" stroke-width="1.6"/><g clip-path="url(#fl)"><rect x="-7" y="-7" width="14" height="14" fill="#ffffff"/><rect x="-7" y="-7.00" width="14" height="2.8" fill="#ef5350"/><rect x="-7" y="-1.40" width="14" height="2.8" fill="#ef5350"/><rect x="-7" y="4.20" width="14" height="2.8" fill="#ef5350"/><rect x="-7" y="-7" width="7.6" height="8.4" fill="#4a86e8"/><circle cx="-5" cy="-5" r="0.6" fill="#fff"/><circle cx="-2.5" cy="-5" r="0.6" fill="#fff"/><circle cx="-5" cy="-2.3" r="0.6" fill="#fff"/><circle cx="-2.5" cy="-2.3" r="0.6" fill="#fff"/><circle cx="-3.7" cy="-3.6" r="0.6" fill="#fff"/></g></g>
<g transform="translate(786.7,354.5)"><circle r="8.85" fill="#000" stroke="#f23645" stroke-width="1.6"/><circle r="7" fill="#1565c0"/><circle cx="0.00" cy="-4.30" r="0.75" fill="#e6c229"/><circle cx="2.15" cy="-3.72" r="0.75" fill="#e6c229"/><circle cx="3.72" cy="-2.15" r="0.75" fill="#e6c229"/><circle cx="4.30" cy="-0.00" r="0.75" fill="#e6c229"/><circle cx="3.72" cy="2.15" r="0.75" fill="#e6c229"/><circle cx="2.15" cy="3.72" r="0.75" fill="#e6c229"/><circle cx="0.00" cy="4.30" r="0.75" fill="#e6c229"/><circle cx="-2.15" cy="3.72" r="0.75" fill="#e6c229"/><circle cx="-3.72" cy="2.15" r="0.75" fill="#e6c229"/><circle cx="-4.30" cy="0.00" r="0.75" fill="#e6c229"/><circle cx="-3.72" cy="-2.15" r="0.75" fill="#e6c229"/><circle cx="-2.15" cy="-3.72" r="0.75" fill="#e6c229"/></g>
<g transform="translate(10.2,405.5) scale(0.712,0.700)" fill="#1a1a1a"><path d="M14 22H7V11H0V4h14v18zM28 22h-8l7.5-18h8L28 22z"/><circle cx="20" cy="8" r="4"/></g>
<text x="42.2" y="420.8" font-size="17.6" fill="#1a1a1a" font-weight="normal" text-anchor="start" textLength="102.6" lengthAdjust="spacingAndGlyphs" stroke="#1a1a1a" stroke-width="0.55">TradingView</text>
</svg></body></html>
